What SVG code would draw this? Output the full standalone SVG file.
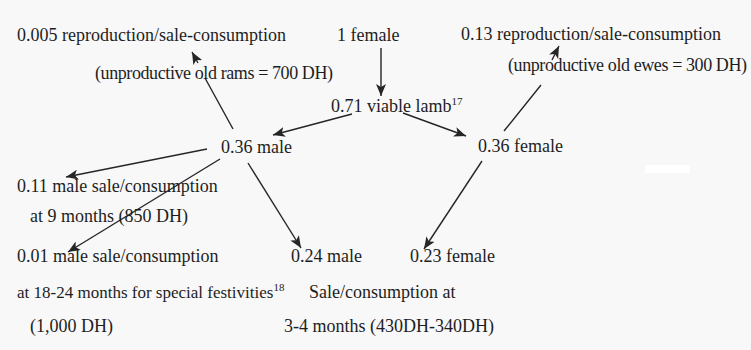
<svg xmlns="http://www.w3.org/2000/svg" width="751" height="350" viewBox="0 0 751 350">
<style>
text{font-family:"Liberation Serif","Times New Roman",serif;font-size:18px;fill:#1e1e1e}
.sup{font-size:11px}
.c{fill:none;stroke:#262626;stroke-width:1.4}
</style>
<defs>
<marker id="ah" markerUnits="userSpaceOnUse" markerWidth="14" markerHeight="10" refX="12" refY="5" orient="auto">
<path d="M0,0 L12,5 L0,10 L3,5 Z" fill="#262626"/>
</marker>
</defs>
<rect width="751" height="350" fill="#f8f8f8"/>
<rect x="645" y="165" width="45" height="8" fill="#ffffff"/>
<g id="connectors">
<path class="c" d="M381,48 L381,96" marker-end="url(#ah)"/>
<path class="c" d="M352,114 L273,135" marker-end="url(#ah)"/>
<path class="c" d="M403,113 L466,136" marker-end="url(#ah)"/>
<path class="c" d="M233,129 L205,78 M198,63 L192,52" marker-end="url(#ah)"/>
<path class="c" d="M504,131 L541,85 M552,60 L559,46" marker-end="url(#ah)"/>
<path class="c" d="M207,149 L66,177" marker-end="url(#ah)"/>
<path class="c" d="M220,159 L68,252" marker-end="url(#ah)"/>
<path class="c" d="M248,163 L301,248" marker-end="url(#ah)"/>
<path class="c" d="M482,161 L424,249" marker-end="url(#ah)"/>
</g>
<g id="n-old-rams"><text x="17" y="41">0.005 reproduction/sale-consumption</text><text x="95" y="79" textLength="238" lengthAdjust="spacing">(unproductive old rams = 700 DH)</text></g>
<g id="n-female"><text x="337" y="41">1 female</text></g>
<g id="n-old-ewes"><text x="461" y="40">0.13 reproduction/sale-consumption</text><text x="508" y="71" textLength="239" lengthAdjust="spacing">(unproductive old ewes = 300 DH)</text></g>
<g id="n-lamb"><text x="331" y="112">0.71 viable lamb<tspan class="sup" dy="-7">17</tspan></text></g>
<g id="n-male"><text x="221" y="153">0.36 male</text></g>
<g id="n-female2"><text x="478" y="152">0.36 female</text></g>
<g id="n-male-9"><text x="17" y="192">0.11 male sale/consumption</text><text x="30" y="222">at 9 months (850 DH)</text></g>
<g id="n-male-18"><text x="17" y="262">0.01 male sale/consumption</text><text x="17" y="298" style="font-size:17px">at 18-24 months for special festivities<tspan class="sup" dy="-7">18</tspan></text><text x="30" y="332">(1,000 DH)</text></g>
<g id="n-male-024"><text x="291" y="262">0.24 male</text><text x="309" y="298">Sale/consumption at</text><text x="284" y="332">3-4 months (430DH-340DH)</text></g>
<g id="n-female-023"><text x="410" y="262">0.23 female</text></g>
</svg>
